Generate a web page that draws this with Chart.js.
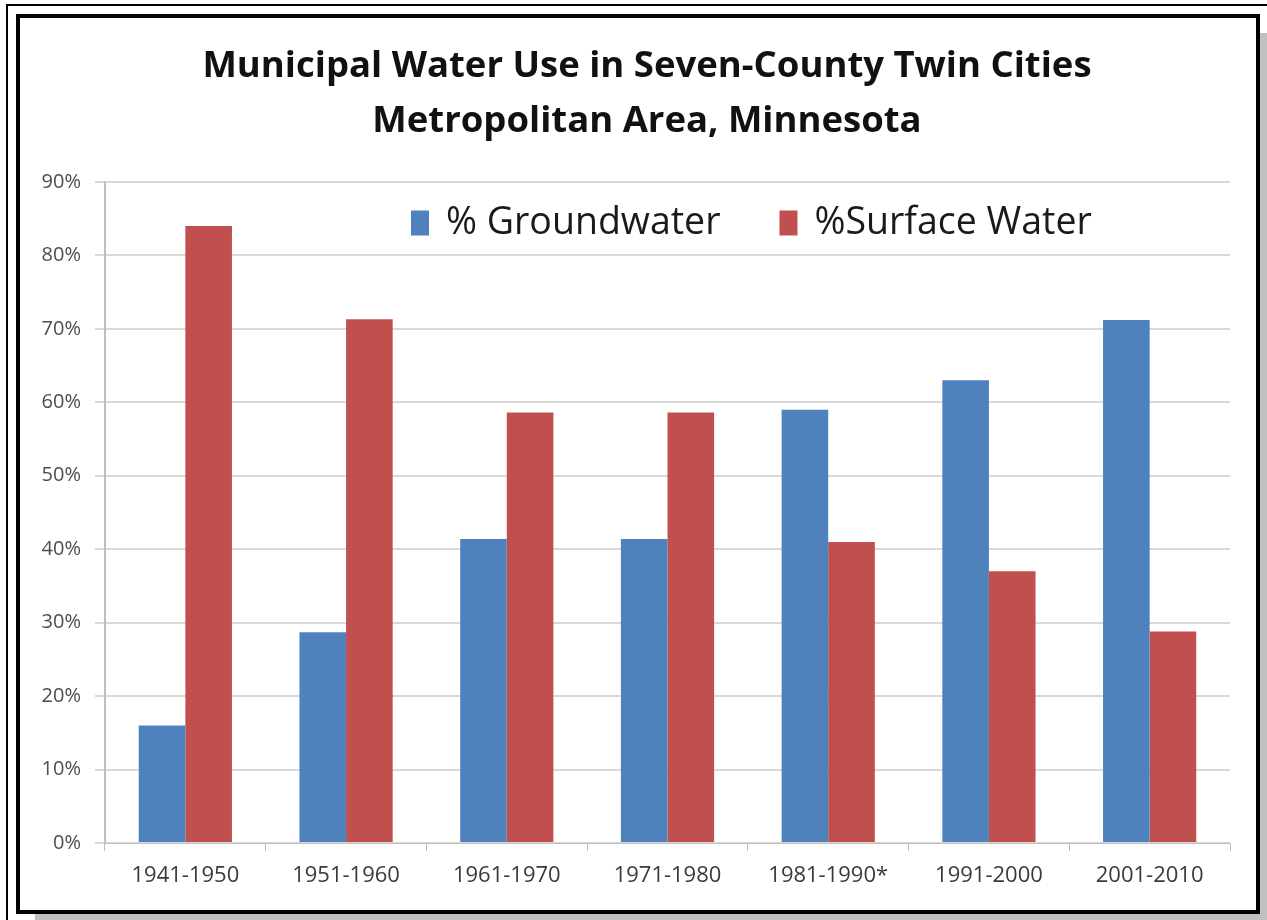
<!DOCTYPE html>
<html>
<head>
    <style>
        html, body { margin: 0; padding: 0; background: #fff; overflow: hidden; }
        body { width: 1267px; height: 920px; position: relative; }
        .outer { position: absolute; left: 6px; top: 4px; width: 1300px; height: 1000px;
                 border-top: 2px solid #000; border-left: 2px solid #000; }
        .frame { position: absolute; left: 16px; top: 14px; width: 1236px; height: 892px;
                 border: 4px solid #000; background: #fff;
                 box-shadow: 13px 13px 0 -6px #c0c0c0; }
        canvas { display: block; position: absolute; left: 0; top: 0; }
    </style>
    <script src="https://cdn.jsdelivr.net/npm/chart.js"></script>
</head>
<body>
    <div class="outer"></div>
    <div class="frame">
        <canvas id="waterChart" width="1254" height="892"></canvas>
    </div>

    <script>
        // data (percent of municipal use)
        const categories = ['1941-1950', '1951-1960', '1961-1970', '1971-1980', '1981-1990*', '1991-2000', '2001-2010'];
        const groundwater = [16, 28.7, 41.4, 41.4, 59, 63, 71.2];
        const surfaceWater = [84, 71.3, 58.6, 58.6, 41, 37, 28.8];
        const seriesNames = ['% Groundwater', '%Surface Water'];
        const titleLines = ['Municipal Water Use in Seven-County Twin Cities', 'Metropolitan Area, Minnesota'];

        const FONT = '"Open Sans", Lato, sans-serif';

        // legend sits inside the plot, like the original
        const insideLegend = {
            id: 'insideLegend',
            afterDraw(chart, args, opts) {
                const ctx = chart.ctx;
                ctx.save();
                ctx.font = opts.fontSize + 'px ' + FONT;
                ctx.textBaseline = 'middle';
                let x = opts.x;
                chart.data.datasets.forEach((ds) => {
                    ctx.fillStyle = ds.backgroundColor;
                    ctx.fillRect(x, opts.y - opts.boxH / 2, opts.boxW, opts.boxH);
                    x += opts.boxW + opts.gap;
                    ctx.fillStyle = '#1a1a1a';
                    ctx.fillText(ds.label, x, opts.y);
                    x += ctx.measureText(ds.label).width + opts.itemGap;
                });
                ctx.restore();
            }
        };

        const ctx = document.getElementById('waterChart').getContext('2d');
        new Chart(ctx, {
            type: 'bar',
            data: {
                labels: categories,
                datasets: [{
                    label: seriesNames[0],
                    data: groundwater,
                    backgroundColor: '#4f81bd',
                    categoryPercentage: 0.58,
                    barPercentage: 1.0
                }, {
                    label: seriesNames[1],
                    data: surfaceWater,
                    backgroundColor: '#c0504d',
                    categoryPercentage: 0.58,
                    barPercentage: 1.0
                }]
            },
            options: {
                responsive: false,
                animation: false,
                layout: { padding: 0 },
                plugins: {
                    legend: { display: false },
                    tooltip: { enabled: false },
                    title: {
                        display: true,
                        text: titleLines,
                        color: '#111',
                        font: { family: FONT, size: 36.5, weight: 'bold', lineHeight: 1.5 },
                        padding: { top: 21.6, bottom: 32.9 }
                    },
                    insideLegend: { x: 391, y: 205, boxW: 18, boxH: 25, gap: 17, itemGap: 59, fontSize: 37.5 }
                },
                scales: {
                    x: {
                        grid: { display: true, drawOnChartArea: false, drawTicks: true, tickLength: 8, color: '#bfbfbf' },
                        border: { color: '#bfbfbf' },
                        ticks: { color: '#3a3a3a', font: { family: FONT, size: 22 }, padding: 12, maxRotation: 0 },
                        afterFit: (s) => { s.height = 67; }
                    },
                    y: {
                        min: 0,
                        max: 90,
                        grid: { color: '#d9d9d9', tickLength: 10, lineWidth: 2 },
                        border: { color: '#bfbfbf', width: 2 },
                        ticks: {
                            stepSize: 10,
                            color: '#4d4d4d',
                            font: { family: FONT, size: 20 },
                            padding: 14,
                            callback: (v) => v + '%'
                        },
                        afterFit: (s) => { s.width = 85; }
                    },
                    // empty right-hand spacer, keeps the plot narrower than the title
                    spacer: {
                        type: 'linear',
                        position: 'right',
                        grid: { display: false, drawTicks: false },
                        border: { display: false },
                        ticks: { display: false },
                        afterFit: (s) => { s.width = 44; }
                    }
                }
            },
            plugins: [insideLegend]
        });
    </script>
</body>
</html>
